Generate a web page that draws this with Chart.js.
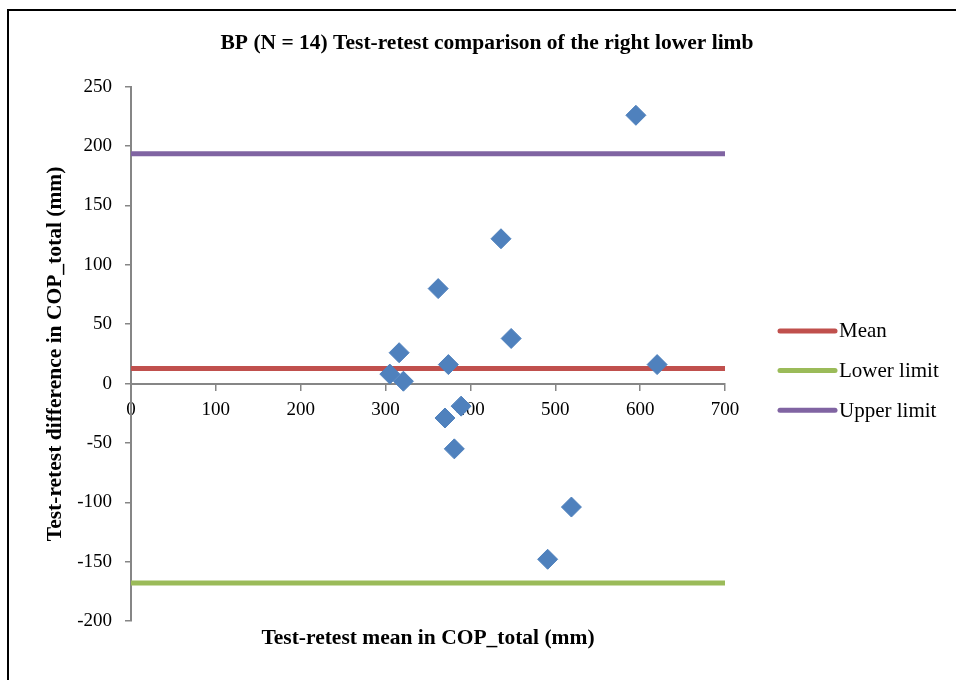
<!DOCTYPE html>
<html>
<head>
<meta charset="utf-8">
<script src="https://cdn.jsdelivr.net/npm/chart.js@4.4.0/dist/chart.umd.min.js"></script>
<style>
html, body { margin: 0; padding: 0; background: #fff; }
</style>
</head>
<body>
<canvas id="ba-chart" width="956" height="680"></canvas>
<script>
// Test-retest mean vs difference, right lower limb (BP, N = 14)
var meanValues = [362, 448, 316, 374, 305, 321, 389, 370, 381, 595, 436, 620, 519, 491];
var diffValues = [80, 38, 26, 16, 8, 2, -19, -29, -55, 226, 122, 16, -104, -148];

var limitNames = ['Mean', 'Lower limit', 'Upper limit'];
var limitValues = [12.7, -168, 193.5];

var xRange = [0, 700];
var yRange = [-200, 250];

var blue = '#4F81BD';
var limitColors = ['#C0504D', '#9BBB59', '#8064A2'];
var axisGray = '#868686';
var serif = "'Liberation Serif', 'Times New Roman', serif";

function buildPoints() {
    return meanValues.map(function (m, i) {
        return {x: m, y: diffValues[i]};
    });
}

function buildLimitDatasets() {
    return limitNames.map(function (name, i) {
        return {
            type: 'line',
            label: name,
            data: xRange.map(function (x) { return {x: x, y: limitValues[i]}; }),
            borderColor: limitColors[i],
            backgroundColor: limitColors[i],
            borderWidth: 5,
            borderCapStyle: 'round',
            pointRadius: 0,
            fill: false
        };
    });
}

var framePlugin = {
    id: 'frame',
    beforeDraw: function (chart) {
        var ctx = chart.ctx;
        ctx.save();
        ctx.fillStyle = '#fff';
        ctx.fillRect(0, 0, chart.width, chart.height);
        ctx.strokeStyle = '#000';
        ctx.lineWidth = 2;
        ctx.beginPath();
        ctx.moveTo(8, chart.height);
        ctx.lineTo(8, 10);
        ctx.lineTo(chart.width, 10);
        ctx.stroke();
        ctx.restore();
    }
};

// line-style legend at the right of the plot
var sideLegend = {
    id: 'sideLegend',
    afterDraw: function (chart) {
        var ctx = chart.ctx;
        var area = chart.chartArea;
        var x0 = area.right + 55;
        var y0 = (area.top + area.bottom) / 2 - 23;
        ctx.save();
        ctx.font = '21px ' + serif;
        ctx.textBaseline = 'middle';
        ctx.fillStyle = '#000';
        chart.data.datasets.forEach(function (ds, i) {
            if (ds.type !== 'line') return;
            var y = y0 + (i - 1) * 39.7;
            ctx.strokeStyle = ds.borderColor;
            ctx.lineWidth = 5;
            ctx.lineCap = 'round';
            ctx.beginPath();
            ctx.moveTo(x0, y);
            ctx.lineTo(x0 + 55, y);
            ctx.stroke();
            ctx.fillText(ds.label, x0 + 59, y + 1);
        });
        ctx.restore();
    }
};

var datasets = [{
    type: 'scatter',
    label: 'Difference',
    data: buildPoints(),
    pointStyle: 'rectRot',
    pointRadius: 10,
    pointHoverRadius: 10,
    backgroundColor: blue,
    borderColor: blue,
    borderWidth: 1
}].concat(buildLimitDatasets());

new Chart(document.getElementById('ba-chart'), {
    type: 'scatter',
    data: {datasets: datasets},
    plugins: [framePlugin, sideLegend],
    options: {
        responsive: false,
        animation: false,
        devicePixelRatio: 1,
        layout: {padding: {left: 18, top: 10, right: 0, bottom: 0}},
        plugins: {
            legend: {display: false},
            tooltip: {enabled: false},
            title: {
                display: true,
                text: 'BP (N = 14) Test-retest comparison of the right lower limb',
                color: '#000',
                font: {family: serif, size: 21.5, weight: 'bold'},
                padding: {top: 21, bottom: 30}
            }
        },
        scales: {
            x: {
                type: 'linear',
                position: {y: 0},
                min: xRange[0],
                max: xRange[1],
                ticks: {stepSize: 100, color: '#000', font: {family: serif, size: 19}, padding: 9},
                grid: {drawOnChartArea: false, tickLength: 6, color: axisGray, lineWidth: 1.5},
                border: {color: axisGray, width: 2}
            },
            y: {
                type: 'linear',
                position: 'left',
                min: yRange[0],
                max: yRange[1],
                ticks: {stepSize: 50, color: '#000', font: {family: serif, size: 19}, padding: 13},
                grid: {drawOnChartArea: false, tickLength: 6, color: axisGray, lineWidth: 1.5},
                border: {color: axisGray, width: 2},
                title: {
                    display: true,
                    text: 'Test-retest difference in COP_total (mm)',
                    color: '#000',
                    font: {family: serif, size: 21.5, weight: 'bold'},
                    padding: {top: 25, bottom: 0}
                },
                afterFit: function (scale) { scale.width = 113; }
            },
            xTitle: {
                type: 'linear',
                position: 'bottom',
                ticks: {display: false},
                grid: {display: false, drawTicks: false},
                border: {display: false},
                title: {
                    display: true,
                    text: 'Test-retest mean in COP_total (mm)',
                    color: '#000',
                    font: {family: serif, size: 21.5, weight: 'bold'},
                    padding: {top: 0, bottom: 29}
                },
                afterFit: function (scale) { scale.height = 59; }
            },
            legendSpace: {
                type: 'linear',
                position: 'right',
                ticks: {display: false},
                grid: {display: false, drawTicks: false},
                border: {display: false},
                afterFit: function (scale) { scale.width = 231; }
            }
        }
    }
});
</script>
</body>
</html>
